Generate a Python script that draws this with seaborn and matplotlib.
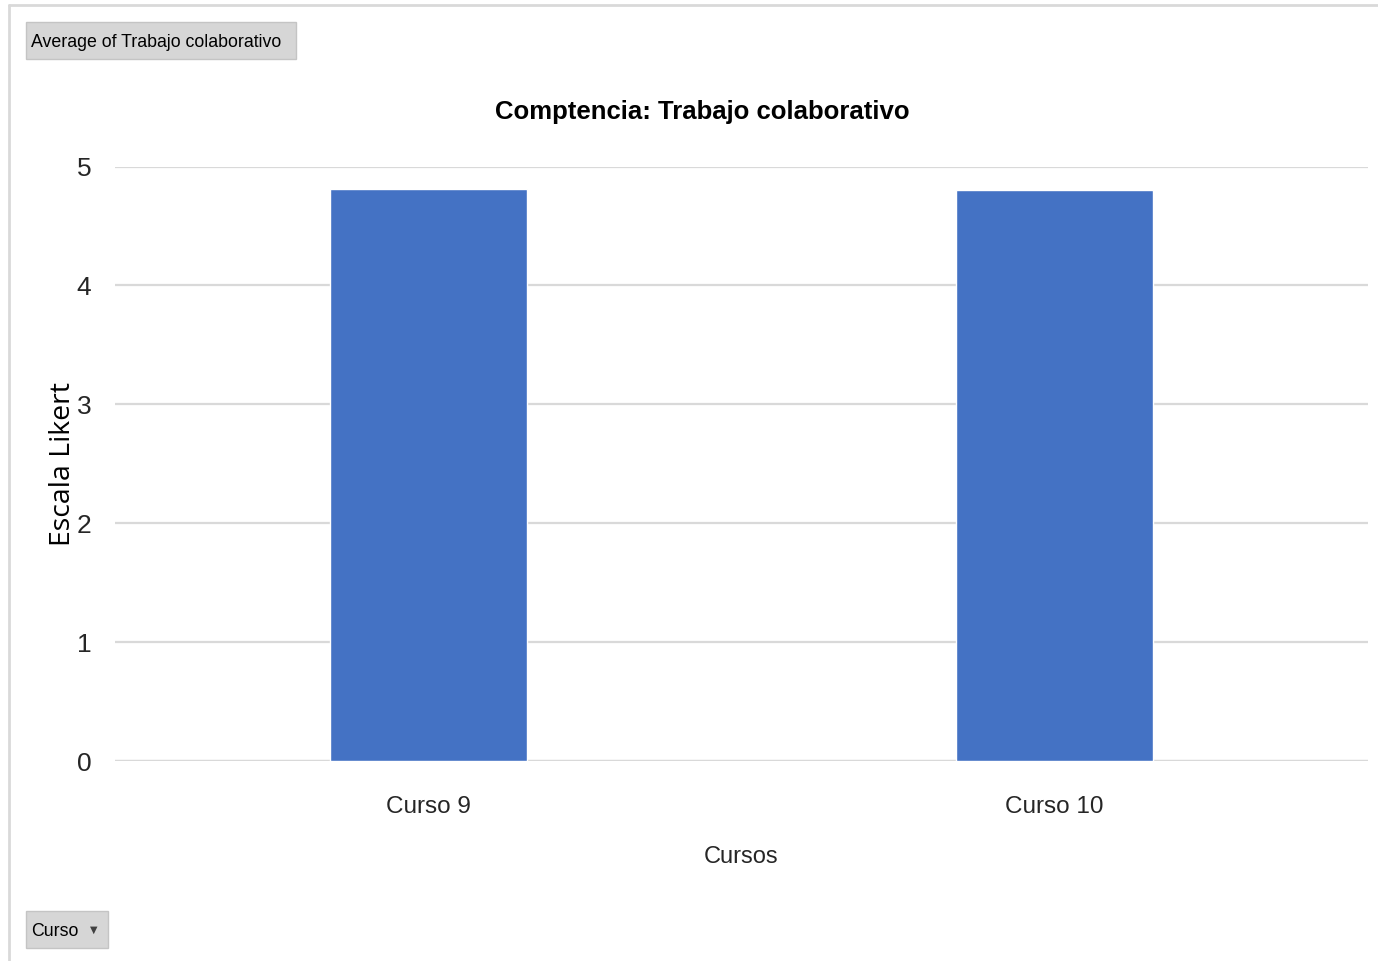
import matplotlib
matplotlib.use("Agg")
import matplotlib.pyplot as plt
from matplotlib.patches import Rectangle
from matplotlib.lines import Line2D
import pandas as pd
import seaborn as sns

# data
cursos = ["Curso 9", "Curso 10"]
promedios = [4.81, 4.80]
y_ticks = [0, 1, 2, 3, 4, 5]

df = pd.DataFrame({"Curso": cursos, "Promedio": promedios})

sns.set_style("white")
plt.rcParams["font.family"] = ["Liberation Sans Narrow", "Liberation Sans", "DejaVu Sans"]

fig = plt.figure(figsize=(13.78, 9.61), dpi=100)
ax = fig.add_axes([0.0835, 0.2081, 0.9092, 0.6186])

sns.barplot(data=df, x="Curso", y="Promedio", color="#4472C4", width=0.314,
            saturation=1, ax=ax, errorbar=None)

ax.set_ylim(0, 5)
ax.set_yticks(y_ticks)
ax.set_xlim(-0.5, 1.5)
ax.yaxis.grid(True, color="#d9d9d9", linewidth=1.6)
ax.set_axisbelow(True)
for s in ax.spines.values():
    s.set_visible(False)
ax.axhline(0, color="#d9d9d9", linewidth=1.6, zorder=0)
ax.tick_params(axis="both", length=0, colors="#262626")
ax.tick_params(axis="y", pad=17, labelsize=19)
ax.tick_params(axis="x", pad=25, labelsize=17.5)

ax.set_xlabel("Cursos", fontsize=17, color="#262626", labelpad=20)
ax.set_ylabel("Escala Likert", fontsize=20.5, family=["Open Sans", "DejaVu Sans"],
              color="black", labelpad=0)
ax.set_title("Comptencia: Trabajo colaborativo", fontsize=18.5, fontweight="bold",
             color="black", pad=34, x=0.4685)

# chart frame
fig.add_artist(Line2D([9 / 1378, 1], [1 - 5 / 961, 1 - 5 / 961], color="#d9d9d9",
                      linewidth=2, transform=fig.transFigure))
fig.add_artist(Line2D([9 / 1378, 9 / 1378], [0, 1 - 5 / 961], color="#d9d9d9",
                      linewidth=2, transform=fig.transFigure))

# pivot field buttons
def boton(x0, y0, x1, y1, texto, flecha=False):
    W, H = 1378, 961
    fig.add_artist(Rectangle((x0 / W, 1 - y1 / H), (x1 - x0) / W, (y1 - y0) / H,
                             facecolor="#d6d6d6", edgecolor="#c4c4c4", linewidth=1,
                             transform=fig.transFigure))
    fig.text((x0 + 5) / W, 1 - ((y0 + y1) / 2 + 2) / H, texto, fontsize=12.8,
             va="center", ha="left", color="black")
    if flecha:
        fig.text((x1 - 14) / W, 1 - ((y0 + y1) / 2) / H, "▼", fontsize=7,
                 va="center", ha="center", color="#404040",
                 family=["DejaVu Sans"])

boton(26, 22, 296, 59, "Average of Trabajo colaborativo")
boton(26, 911, 108, 948, "Curso", flecha=True)

fig.savefig("out.png", dpi=100)
